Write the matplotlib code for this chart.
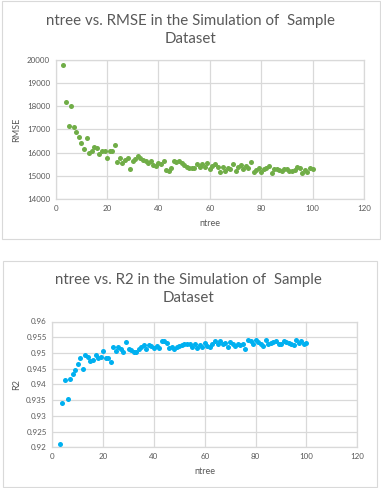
import numpy as np
import matplotlib.pyplot as plt
from matplotlib.patches import Rectangle
from matplotlib.ticker import FuncFormatter

ntree = np.arange(3, 101)

rmse = [19800, 18180, 17150, 18020, 17120, 16890, 16690, 16410, 16140, 16650,
        15990, 16090, 16260, 16220, 15940, 16090, 16060, 15780, 16080, 16090,
        16330, 15580, 15770, 15540, 15670, 15770, 15300, 15620, 15720, 15850,
        15790, 15700, 15630, 15560, 15660, 15470, 15440, 15560, 15490, 15620,
        15270, 15220, 15340, 15660, 15590, 15630, 15540, 15470, 15400, 15340,
        15340, 15330, 15500, 15370, 15500, 15400, 15540, 15290, 15420, 15500,
        15360, 15160, 15380, 15200, 15350, 15290, 15510, 15230, 15370, 15450,
        15300, 15420, 15340, 15580, 15180, 15250, 15330, 15160, 15280, 15350,
        15420, 15120, 15300, 15300, 15250, 15190, 15300, 15280, 15200, 15230,
        15270, 15360, 15330, 15110, 15250, 15180, 15330, 15290]

r2 = [0.9212, 0.9342, 0.9414, 0.9354, 0.9417, 0.9434, 0.9445, 0.9465, 0.9483, 0.9448,
      0.9492, 0.9488, 0.9474, 0.9476, 0.9494, 0.9485, 0.9487, 0.9506, 0.9485, 0.9483,
      0.9471, 0.9518, 0.9506, 0.9519, 0.9512, 0.9504, 0.9535, 0.9514, 0.9509, 0.9502,
      0.9504, 0.9512, 0.9518, 0.9526, 0.9512, 0.9526, 0.9521, 0.9516, 0.9523, 0.9515,
      0.9537, 0.9539, 0.9531, 0.9515, 0.9518, 0.9512, 0.9518, 0.9522, 0.9525, 0.9529,
      0.9527, 0.9530, 0.9520, 0.9527, 0.9517, 0.9525, 0.9518, 0.9533, 0.9522, 0.9519,
      0.9527, 0.9538, 0.9528, 0.9538, 0.9529, 0.9532, 0.9518, 0.9535, 0.9528, 0.9522,
      0.9530, 0.9526, 0.9528, 0.9512, 0.9542, 0.9537, 0.9527, 0.9540, 0.9534, 0.9527,
      0.9521, 0.9542, 0.9530, 0.9531, 0.9535, 0.9538, 0.9530, 0.9529, 0.9538, 0.9534,
      0.9532, 0.9527, 0.9526, 0.9541, 0.9532, 0.9539, 0.9528, 0.9531]

W, H = 381, 488
txt = '#595959'
grid = '#d9d9d9'
plt.rcParams['font.family'] = ['Lato', 'DejaVu Sans']

fig = plt.figure(figsize=(W / 100, H / 100), dpi=100)


def px_axes(x0, y0, x1, y1):
    return fig.add_axes([x0 / W, 1 - y1 / H, (x1 - x0) / W, (y1 - y0) / H])


def border(x0, y0, x1, y1):
    fig.patches.append(Rectangle((x0 / W, 1 - y1 / H), (x1 - x0) / W, (y1 - y0) / H,
                                 transform=fig.transFigure, fill=False,
                                 edgecolor='#d9d9d9', lw=0.8))


def style(ax, ylabel):
    ax.set_xlim(0, 120)
    ax.set_xticks(np.arange(0, 121, 20))
    ax.grid(True, color=grid, lw=0.9)
    ax.set_axisbelow(True)
    for s in ax.spines.values():
        s.set_color(grid)
        s.set_linewidth(0.9)
    ax.tick_params(length=0, labelsize=5.8, labelcolor=txt, pad=4)
    ax.set_xlabel('ntree', fontsize=6.5, color=txt, labelpad=5)
    ax.set_ylabel(ylabel, fontsize=6.5, color=txt, labelpad=4)


# top chart
border(2, 1, 380, 239)
ax1 = px_axes(55.7, 60, 364, 199)
ax1.scatter(ntree, rmse, s=13, color='#70AD47', zorder=3, linewidths=0)
ax1.set_ylim(14000, 20000)
ax1.set_yticks(np.arange(14000, 20001, 1000))
style(ax1, 'RMSE')
fig.text(191 / W, 1 - 30 / H, 'ntree vs. RMSE in the Simulation of  Sample\nDataset',
         ha='center', va='center', fontsize=10.8, color=txt, linespacing=1.3)

# bottom chart
border(3, 261, 377, 487)
ax2 = px_axes(52.3, 321.5, 357.3, 447.3)
ax2.scatter(ntree, r2, s=13, color='#00B0F0', zorder=3, linewidths=0)
ax2.set_ylim(0.92, 0.96)
ax2.set_yticks(np.linspace(0.92, 0.96, 9))
ax2.yaxis.set_major_formatter(FuncFormatter(lambda v, p: '%g' % round(v, 3)))
style(ax2, 'R2')
fig.text(188 / W, 1 - 289 / H, 'ntree vs. R2 in the Simulation of  Sample\nDataset',
         ha='center', va='center', fontsize=10.8, color=txt, linespacing=1.3)

fig.savefig('out.png', dpi=100)
